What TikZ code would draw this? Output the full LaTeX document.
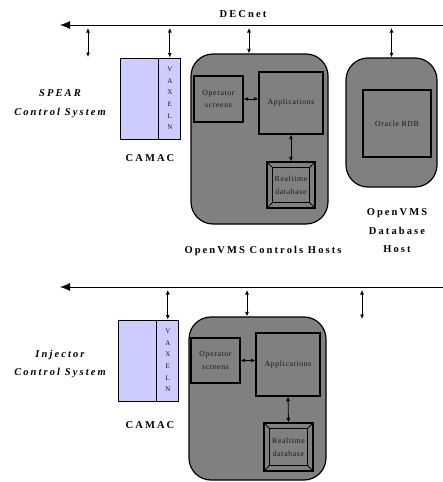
\documentclass[tikz,border=0pt]{standalone}
\usepackage{fontspec}
\setmainfont{Liberation Serif}
\newfontfamily\widefont[LetterSpace=20]{Liberation Serif}
\newfontfamily\smallfont[LetterSpace=8]{Liberation Serif}
\usetikzlibrary{arrows.meta,positioning}
\definecolor{camacblue}{RGB}{204,204,255}
\definecolor{hostgray}{RGB}{128,128,128}

\begin{document}
\begin{tikzpicture}[x=1pt, y=-1pt,
  host/.style={draw, line width=1.2pt, fill=hostgray, rounded corners=22pt, inner sep=0pt},
  unitbox/.style={draw, line width=1.1pt, fill=hostgray, inner sep=0pt, align=center,
    text=black!90, font=\smallfont\fontsize{7.8}{12.8}\selectfont},
  crate/.style={draw, line width=0.8pt, fill=camacblue, inner sep=0pt,
    minimum width=38pt, minimum height=81pt},
  strip/.style={crate, minimum width=22pt, align=center, text=black!90,
    font=\fontsize{7}{11.6}\selectfont},
  biglbl/.style={align=center, font=\widefont\bfseries\fontsize{10.5}{18.5}\selectfont},
  syslbl/.style={align=center, font=\widefont\bfseries\itshape\fontsize{10.5}{18.5}\selectfont},
  link/.style={{Latex[length=4.5pt,width=4pt]}-{Latex[length=4.5pt,width=4pt]}, line width=0.8pt},
  busline/.style={-{Latex[length=10pt,width=8pt]}, line width=0.8pt}]

\useasboundingbox (0,0) rectangle (443,482);

% ---- DECnet buses ----
\coordinate (busS) at (443,25);
\coordinate (busI) at (443,287);
\draw[busline] (busS) -- (60,25);
\draw[busline] (busI) -- (60,287);
\node[biglbl] (decnet) at (243,14) {DECnet};

% ===== SPEAR (upper half) =====
\node[syslbl] (spear) at (60,103.5) {SPEAR\\Control System};

% CAMAC crate with VAXELN strip
\node[crate] (camacS) at (139,98.5) {};
\node[strip, right=0pt of camacS] (vaxS) {V\\A\\X\\E\\L\\N};
\node[biglbl] (camaclblS) at (150,158) {CAMAC};

% controls host
\node[host, minimum width=137, minimum height=170] (hostS) at (259.5,139) {};
\node[unitbox, minimum width=49, minimum height=46] (opsS) at (218.5,99) {Operator\\screens};
\node[unitbox, minimum width=64, minimum height=62] (appS) at (291,103) {Applications};
\node[unitbox, minimum width=48, minimum height=46] (rtS) at (291,185) {};
\node[biglbl] (hostlblS) at (263,251) {OpenVMS Controls Hosts};

% database host
\node[host, minimum width=91, minimum height=129] (hostDB) at (391.5,122.5) {};
\node[unitbox, minimum width=68, minimum height=67] (rdb) at (397,123.5) {Oracle RDB};
\node[biglbl] (dblbl) at (397,231) {OpenVMS\\Database\\Host};

% taps on the bus
\coordinate (tapS) at (88,57);
\coordinate (hostSx) at (249,0);
\draw[link] ([yshift=-3pt]tapS |- busS) -- (tapS);
\draw[link] ([yshift=-3pt]vaxS.north |- busS) -- (vaxS.north);
\draw[link] ([yshift=-3pt]hostSx |- busS) -- (hostSx |- hostS.north);
\draw[link] ([yshift=-3pt]hostDB.north |- busS) -- (hostDB.north);

\draw[link] (opsS.east) -- (opsS.east -| appS.west);
\draw[link] (appS.south) -- (rtS.north);

% ===== Injector (lower half) =====
\node[syslbl] (inj) at (60,364) {Injector\\Control System};

\node[crate] (camacI) at (137,360.5) {};
\node[strip, right=0pt of camacI] (vaxI) {V\\A\\X\\E\\L\\N};
\node[biglbl] (camaclblI) at (150,425) {CAMAC};

\node[host, minimum width=137, minimum height=163] (hostI) at (257.5,398.5) {};
\node[unitbox, minimum width=49, minimum height=45] (opsI) at (215.5,360.5) {Operator\\screens};
\node[unitbox, minimum width=64, minimum height=63] (appI) at (288,364.5) {Applications};
\node[unitbox, minimum width=49, minimum height=48] (rtI) at (288.5,447) {};

\coordinate (tapI) at (362,319);
\coordinate (hostIx) at (247,0);
\draw[link] ([yshift=-3pt]vaxI.north |- busI) -- (vaxI.north);
\draw[link] ([yshift=-3pt]hostIx |- busI) -- (hostIx |- hostI.north);
\draw[link] ([yshift=-3pt]tapI |- busI) -- (tapI);

\draw[link] (opsI.east) -- (opsI.east -| appI.west);
\draw[link] (appI.south) -- (rtI.north);

% ---- bevelled realtime database boxes ----
\foreach \n in {rtS,rtI} {
  \draw[line width=1.1pt] ([shift={(6,6)}]\n.north west) rectangle ([shift={(-6,-6)}]\n.south east);
  \draw[line width=0.8pt] (\n.north west) -- ([shift={(6,6)}]\n.north west);
  \draw[line width=0.8pt] (\n.north east) -- ([shift={(-6,6)}]\n.north east);
  \draw[line width=0.8pt] (\n.south west) -- ([shift={(6,-6)}]\n.south west);
  \draw[line width=0.8pt] (\n.south east) -- ([shift={(-6,-6)}]\n.south east);
  \node[align=center, text=black!90, font=\smallfont\fontsize{7.8}{12.8}\selectfont] (\n-lbl) at (\n) {Realtime\\database};
}

\end{tikzpicture}
\end{document}
